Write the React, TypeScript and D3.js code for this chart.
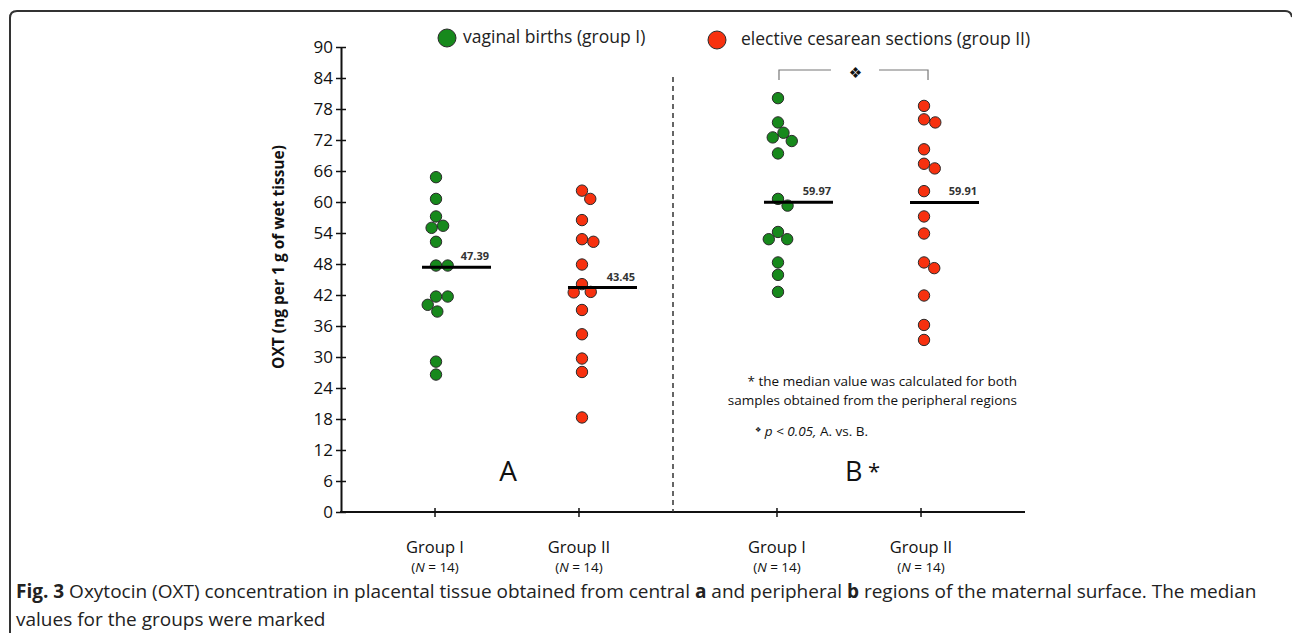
import React, { useEffect, useRef } from 'react';
import * as d3 from 'd3';

// OXT values (ng per 1 g of wet tissue)
const groups = ['Group I', 'Group II'];
const centralGroupI = [64.8, 60.6, 57.2, 55.4, 55.0, 52.3, 47.7, 47.7, 41.7, 41.7, 40.1, 38.8, 29.1, 26.6];
const centralGroupII = [62.2, 60.6, 56.5, 52.8, 52.3, 47.9, 44.1, 42.6, 42.5, 39.1, 34.4, 29.7, 27.1, 18.3];
const peripheralGroupI = [80.1, 75.4, 73.4, 72.5, 71.8, 69.4, 60.6, 59.3, 54.2, 52.8, 52.8, 48.3, 45.9, 42.6];
const peripheralGroupII = [78.6, 76.0, 75.4, 70.2, 67.4, 66.5, 62.1, 57.2, 53.9, 48.3, 47.2, 41.9, 36.2, 33.3];
const centralMedians = [47.39, 43.45];
const peripheralMedians = [59.97, 59.91];
const yTicks = [0, 6, 12, 18, 24, 30, 36, 42, 48, 54, 60, 66, 72, 78, 84, 90];
const legendLabels = ['vaginal births (group I)', 'elective cesarean sections (group II)'];

const W = 1292;
const H = 633;
const margin = { top: 47, right: 267, bottom: 121, left: 341 };
const FONT = '"Open Sans", "DejaVu Sans", sans-serif';
const colors = ['#17891c', '#f7310f'];
const R = 5.7;

// simple beeswarm: put each dot as close to the centre as it can go
function dodge(values: number[], y: (v: number) => number, d: number) {
  const placed: { x: number; y: number; v: number }[] = [];
  [...values].sort((a, b) => b - a).forEach(v => {
    const py = y(v);
    const cands = [0];
    placed.forEach(p => {
      const dy = Math.abs(p.y - py);
      if (dy < d) {
        const dx = Math.sqrt(d * d - dy * dy);
        cands.push(p.x + dx, p.x - dx);
      }
    });
    const ok = cands.filter(c => placed.every(p => Math.hypot(p.x - c, p.y - py) >= d - 0.01));
    ok.sort((a, b) => Math.abs(a) - Math.abs(b) || b - a);
    placed.push({ x: ok[0], y: py, v });
  });
  return placed;
}

const Chart = () => {
  const ref = useRef<SVGSVGElement>(null);

  useEffect(() => {
    const svg = d3.select(ref.current);
    svg.selectAll('*').remove();

    const left = margin.left;
    const right = W - margin.right;
    const bottom = H - margin.bottom;
    const divider = 673;

    const y = d3.scaleLinear().domain([0, 90]).range([bottom, margin.top]);
    const xA = d3.scalePoint().domain(groups).range([left, divider]).padding(0.653);
    const xB = d3.scalePoint().domain(groups).range([divider, right]).padding(0.722);

    // frame round the figure
    svg.append('path')
      .attr('d', `M10,${H} V18 Q10,11 17,11 H1285 Q1291,11 1292,17`)
      .attr('fill', 'none').attr('stroke', '#333').attr('stroke-width', 2);

    // Y axis
    const yAxis = svg.append('g')
      .attr('transform', `translate(${left},0)`)
      .call(d3.axisLeft(y).tickValues(yTicks).tickSize(5).tickSizeOuter(0).tickPadding(3));
    yAxis.select('.domain').attr('stroke', '#111').attr('stroke-width', 2);
    yAxis.selectAll('.tick line').attr('x1', 5).attr('x2', -5).attr('stroke', '#111').attr('stroke-width', 1.5);
    yAxis.selectAll('.tick text')
      .attr('font-size', 17).attr('font-family', FONT).attr('fill', '#111');

    svg.append('text')
      .attr('transform', `translate(284,${257}) rotate(-90)`)
      .attr('text-anchor', 'middle')
      .attr('font-family', FONT).attr('font-size', 15.5).attr('font-weight', 'bold')
      .attr('fill', '#111')
      .text('OXT (ng per 1 g of wet tissue)');

    // X axis
    svg.append('line')
      .attr('x1', left - 1).attr('x2', right).attr('y1', bottom).attr('y2', bottom)
      .attr('stroke', '#111').attr('stroke-width', 2);

    const panelsX = [xA, xB];
    panelsX.forEach(x => {
      groups.forEach(g => {
        const gx = x(g) as number;
        svg.append('line')
          .attr('x1', gx).attr('x2', gx).attr('y1', bottom - 4).attr('y2', bottom + 5)
          .attr('stroke', '#111').attr('stroke-width', 1.5);
        svg.append('text')
          .attr('x', gx).attr('y', bottom + 41)
          .attr('text-anchor', 'middle').attr('font-family', FONT).attr('font-size', 16.5)
          .attr('fill', '#111').text(g);
        const n = svg.append('text')
          .attr('x', gx).attr('y', bottom + 60)
          .attr('text-anchor', 'middle').attr('font-family', FONT).attr('font-size', 13.5)
          .attr('fill', '#111');
        n.append('tspan').text('(');
        n.append('tspan').attr('font-style', 'italic').text('N');
        n.append('tspan').text(' = 14)');
      });
    });

    // dashed divider between A and B
    svg.append('line')
      .attr('x1', divider).attr('x2', divider).attr('y1', 77).attr('y2', bottom)
      .attr('stroke', '#333').attr('stroke-width', 1.5).attr('stroke-dasharray', '5,4');

    // dots + medians
    const series = [
      { x: xA, g: groups[0], vals: centralGroupI, med: centralMedians[0], c: colors[0] },
      { x: xA, g: groups[1], vals: centralGroupII, med: centralMedians[1], c: colors[1] },
      { x: xB, g: groups[0], vals: peripheralGroupI, med: peripheralMedians[0], c: colors[0] },
      { x: xB, g: groups[1], vals: peripheralGroupII, med: peripheralMedians[1], c: colors[1] },
    ];

    series.forEach((s, i) => {
      const cx = (s.x(s.g) as number) + (i % 2 === 0 ? 1 : 3);
      const pts = dodge(s.vals, y, 2 * R + 0.3);
      svg.append('g')
        .selectAll('circle')
        .data(pts)
        .join('circle')
        .attr('cx', d => cx + d.x)
        .attr('cy', d => d.y)
        .attr('r', R)
        .attr('fill', s.c)
        .attr('stroke', '#2b2b2b')
        .attr('stroke-width', 1);

      const my = y(s.med);
      svg.append('line')
        .attr('x1', cx - 14).attr('x2', cx + 55).attr('y1', my).attr('y2', my)
        .attr('stroke', '#000').attr('stroke-width', 3);
      svg.append('text')
        .attr('x', cx + 53).attr('y', my - 7)
        .attr('text-anchor', 'end').attr('font-family', FONT).attr('font-size', 11)
        .attr('font-weight', 'bold').attr('fill', '#333')
        .text(s.med.toFixed(2));
    });

    // legend
    const legendPos = [[447, 38, 463], [717, 40, 741]];
    legendLabels.forEach((label, i) => {
      svg.append('circle')
        .attr('cx', legendPos[i][0]).attr('cy', legendPos[i][1]).attr('r', 9)
        .attr('fill', colors[i]).attr('stroke', '#2b2b2b').attr('stroke-width', 1);
      svg.append('text')
        .attr('x', legendPos[i][2]).attr('y', legendPos[i][1] + 5)
        .attr('font-family', FONT).attr('font-size', 17.5).attr('fill', '#222')
        .text(label);
    });

    // significance bracket
    const b1 = (xB(groups[0]) as number) + 2;
    const b2 = (xB(groups[1]) as number) + 7;
    svg.append('path')
      .attr('d', `M${b1},80 V70 H${b1 + 52} M${b2 - 49},70 H${b2} V80`)
      .attr('fill', 'none').attr('stroke', '#777').attr('stroke-width', 1.2);
    svg.append('text')
      .attr('x', (b1 + b2) / 2 + 2).attr('y', 78)
      .attr('text-anchor', 'middle').attr('font-family', '"DejaVu Sans", sans-serif')
      .attr('font-size', 15).attr('fill', '#111').text('\u2756');

    // panel letters
    svg.append('text')
      .attr('x', 508).attr('y', 481).attr('text-anchor', 'middle')
      .attr('font-family', FONT).attr('font-size', 28).attr('fill', '#111').text('A');
    svg.append('text')
      .attr('x', 845).attr('y', 481)
      .attr('font-family', FONT).attr('font-size', 27).attr('fill', '#111').text('B');
    svg.append('text')
      .attr('x', 868).attr('y', 479)
      .attr('font-family', FONT).attr('font-size', 22).attr('fill', '#111').text('*');

    // notes
    const notes = ['* the median value was calculated for both', 'samples obtained from the peripheral regions'];
    notes.forEach((t, i) => {
      svg.append('text')
        .attr('x', 1017).attr('y', 386 + i * 19)
        .attr('text-anchor', 'end').attr('font-family', FONT).attr('font-size', 13.5)
        .attr('fill', '#111').text(t);
    });
    const p = svg.append('text')
      .attr('x', 755).attr('y', 436)
      .attr('font-family', FONT).attr('font-size', 13.5).attr('fill', '#111');
    p.append('tspan').attr('font-family', '"DejaVu Sans", sans-serif').attr('font-size', 7).attr('dy', -4).text('\u2756');
    p.append('tspan').attr('dy', 4).attr('font-style', 'italic').text(' p < 0.05,');
    p.append('tspan').text(' A. vs. B.');

    // caption
    const cap = svg.append('text')
      .attr('x', 16).attr('y', 598)
      .attr('font-family', FONT).attr('font-size', 19).attr('fill', '#222');
    cap.append('tspan').attr('font-weight', 'bold').text('Fig. 3');
    cap.append('tspan').text(' Oxytocin (OXT) concentration in placental tissue obtained from central ');
    cap.append('tspan').attr('font-weight', 'bold').text('a');
    cap.append('tspan').text(' and peripheral ');
    cap.append('tspan').attr('font-weight', 'bold').text('b');
    cap.append('tspan').text(' regions of the maternal surface. The median');
    svg.append('text')
      .attr('x', 16).attr('y', 626)
      .attr('font-family', FONT).attr('font-size', 19).attr('fill', '#222')
      .text('values for the groups were marked');
  }, []);

  return (
    <svg ref={ref} width={W} height={H} style={{ position: 'absolute', left: 0, top: 0, background: '#fff' }} />
  );
};

export default function App() {
  return <Chart />;
}
